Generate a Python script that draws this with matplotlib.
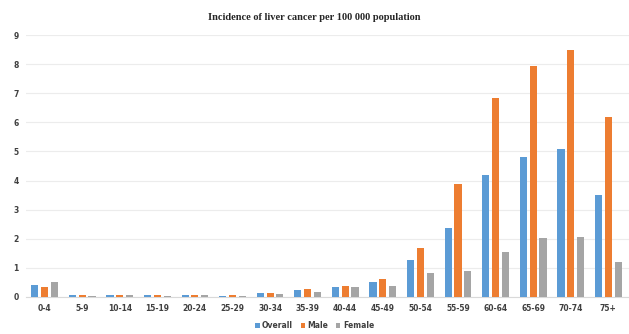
import matplotlib
matplotlib.use("Agg")
import matplotlib.pyplot as plt
import numpy as np

age_groups = ["0-4", "5-9", "10-14", "15-19", "20-24", "25-29", "30-34", "35-39",
              "40-44", "45-49", "50-54", "55-59", "60-64", "65-69", "70-74", "75+"]
overall = [0.40, 0.05, 0.06, 0.05, 0.07, 0.04, 0.13, 0.24,
           0.35, 0.50, 1.27, 2.37, 4.19, 4.80, 5.09, 3.50]
male = [0.33, 0.06, 0.07, 0.05, 0.08, 0.05, 0.15, 0.27,
        0.37, 0.62, 1.68, 3.88, 6.84, 7.95, 8.50, 6.20]
female = [0.50, 0.03, 0.05, 0.04, 0.05, 0.03, 0.11, 0.16,
          0.33, 0.36, 0.82, 0.90, 1.56, 2.02, 2.05, 1.21]
y_ticks = list(range(10))

series = [("Overall", overall, "#5B9BD5"),
          ("Male", male, "#ED7D31"),
          ("Female", female, "#A5A5A5")]

fig = plt.figure(figsize=(6.29, 3.34), dpi=100)
ax = fig.add_axes([0.041, 0.111, 0.959, 0.784])

x = np.arange(len(age_groups))
width = 0.19
offsets = [-0.26, 0.0, 0.26]
for (name, vals, color), off in zip(series, offsets):
    ax.bar(x + off, vals, width, color=color, label=name, zorder=3)

ax.set_xlim(-0.5, len(age_groups) - 0.45)
ax.set_ylim(0, 9)
ax.set_yticks(y_ticks)
ax.set_xticks(x)
ax.set_xticklabels(age_groups)
ax.grid(axis="y", color="#ECECEC", linewidth=0.8, zorder=0)
for side in ["top", "right", "left"]:
    ax.spines[side].set_visible(False)
ax.spines["bottom"].set_color("#D9D9D9")
ax.tick_params(axis="both", length=0, labelsize=5.5, colors="#404040", pad=5)
for lbl in ax.get_xticklabels() + ax.get_yticklabels():
    lbl.set_fontweight("bold")

fig.text(0.5, 0.948, "Incidence of liver cancer per 100 000 population",
         ha="center", va="center", fontsize=7.5, fontweight="bold",
         family="Liberation Serif", color="#262626")

leg = fig.legend(loc="center", bbox_to_anchor=(0.5, 0.025), ncol=3, frameon=False,
                 fontsize=5.5, handlelength=0.6, handleheight=0.6,
                 handletextpad=0.3, columnspacing=1.0)
for t in leg.get_texts():
    t.set_fontweight("bold")
    t.set_color("#404040")

fig.savefig("out.png", dpi=100, facecolor="white")
